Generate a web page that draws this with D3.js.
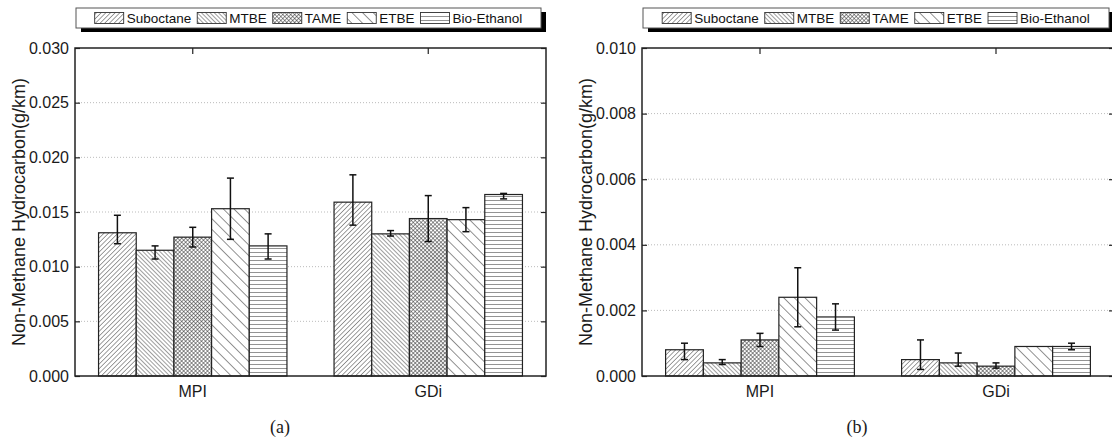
<!DOCTYPE html>
<html>
<head>
<meta charset="utf-8">
<script src="https://cdn.jsdelivr.net/npm/d3@7"></script>
<style>
  body { margin: 0; background: #fff; }
  svg { display: block; font-family: "Liberation Sans", Arial, sans-serif; }
</style>
</head>
<body>
<div id="chart"></div>
<script>
const categories = ['MPI', 'GDi'];
const fuels = ['Suboctane', 'MTBE', 'TAME', 'ETBE', 'Bio-Ethanol'];

// panel (a): mean and error bar bounds, one row per category
const aMean = [[0.0131, 0.0115, 0.0127, 0.0153, 0.0119], [0.0159, 0.0130, 0.0144, 0.0143, 0.0166]];
const aLow  = [[0.0121, 0.0107, 0.0118, 0.0125, 0.0107], [0.0138, 0.0128, 0.0123, 0.0132, 0.0162]];
const aHigh = [[0.0147, 0.0119, 0.0136, 0.0181, 0.0130], [0.0184, 0.0133, 0.0165, 0.0154, 0.0167]];
const aTicks = [0, 0.005, 0.010, 0.015, 0.020, 0.025, 0.030];

// panel (b)
const bMean = [[0.0008, 0.0004, 0.0011, 0.0024, 0.0018], [0.0005, 0.0004, 0.0003, 0.0009, 0.0009]];
const bLow  = [[0.0005, 0.00035, 0.0009, 0.0015, 0.0014], [0.0002, 0.0003, 0.00024, null, 0.0008]];
const bHigh = [[0.0010, 0.0005, 0.0013, 0.0033, 0.0022], [0.0011, 0.0007, 0.0004, null, 0.0010]];
const bTicks = [0, 0.002, 0.004, 0.006, 0.008, 0.010];

const yTitle = 'Non-Methane Hydrocarbon(g/km)';

const svg = d3.select('#chart').append('svg')
  .attr('width', 1112)
  .attr('height', 443);

// hatch patterns
const defs = svg.append('defs');
function linePattern(id, spacing, angle, sw) {
  const p = defs.append('pattern')
    .attr('id', id)
    .attr('patternUnits', 'userSpaceOnUse')
    .attr('width', spacing)
    .attr('height', spacing)
    .attr('patternTransform', `rotate(${angle})`);
  p.append('rect').attr('width', spacing).attr('height', spacing).attr('fill', '#fff');
  p.append('line')
    .attr('x1', 0).attr('y1', 0).attr('x2', 0).attr('y2', spacing)
    .attr('stroke', '#1a1a1a').attr('stroke-width', sw);
}
linePattern('p0', 3.3, 45, 0.85);
linePattern('p1', 3, -45, 0.85);
linePattern('p3', 7.5, -45, 0.95);
linePattern('p4', 4, 90, 0.95);
const cross = defs.append('pattern')
  .attr('id', 'p2')
  .attr('patternUnits', 'userSpaceOnUse')
  .attr('width', 2.8)
  .attr('height', 2.8)
  .attr('patternTransform', 'rotate(45)');
cross.append('rect').attr('width', 2.8).attr('height', 2.8).attr('fill', '#fff');
cross.append('line').attr('x1', 0).attr('y1', 0).attr('x2', 0).attr('y2', 2.8).attr('stroke', '#2a2a2a').attr('stroke-width', 1);
cross.append('line').attr('x1', 0).attr('y1', 0).attr('x2', 2.8).attr('y2', 0).attr('stroke', '#2a2a2a').attr('stroke-width', 1);

const fill = d3.scaleOrdinal().domain(fuels).range(['url(#p0)', 'url(#p1)', 'url(#p2)', 'url(#p3)', 'url(#p4)']);

function drawPanel(o) {
  const g = svg.append('g');
  const x0 = d3.scaleBand().domain(categories).range([o.left, o.right]).paddingInner(0.2).paddingOuter(0.1);
  const x1 = d3.scaleBand().domain(fuels).range([0, x0.bandwidth()]);
  const y = d3.scaleLinear().domain([0, o.ticks[o.ticks.length - 1]]).range([o.bottom, o.top]);

  // grid
  g.append('g').selectAll('line')
    .data(o.ticks.slice(1, -1))
    .join('line')
    .attr('x1', o.left).attr('x2', o.right)
    .attr('y1', d => y(d)).attr('y2', d => y(d))
    .attr('stroke', '#aaa')
    .attr('stroke-width', 0.8)
    .attr('stroke-dasharray', '1,2');

  // bars
  const groups = g.append('g').selectAll('g')
    .data(categories)
    .join('g')
    .attr('transform', c => `translate(${x0(c)},0)`);

  const items = (c, ci) => fuels.map((f, i) => ({
    fuel: f, v: o.mean[ci][i], lo: o.low[ci][i], hi: o.high[ci][i]
  }));

  groups.selectAll('rect')
    .data(items)
    .join('rect')
    .attr('x', d => x1(d.fuel))
    .attr('y', d => y(d.v))
    .attr('width', x1.bandwidth())
    .attr('height', d => o.bottom - y(d.v))
    .attr('fill', d => fill(d.fuel))
    .attr('stroke', '#222')
    .attr('stroke-width', 1.2);

  // error bars
  const eb = groups.selectAll('g.err')
    .data((c, ci) => items(c, ci).filter(d => d.lo != null))
    .join('g')
    .attr('class', 'err')
    .attr('transform', d => `translate(${x1(d.fuel) + x1.bandwidth() / 2},0)`);
  eb.append('line')
    .attr('y1', d => y(d.lo)).attr('y2', d => y(d.hi))
    .attr('stroke', '#111').attr('stroke-width', 1.5);
  eb.selectAll('line.cap')
    .data(d => [d.lo, d.hi])
    .join('line')
    .attr('class', 'cap')
    .attr('x1', -3.5).attr('x2', 3.5)
    .attr('y1', d => y(d)).attr('y2', d => y(d))
    .attr('stroke', '#111').attr('stroke-width', 1.5);

  // axes
  const yl = g.append('g')
    .attr('transform', `translate(${o.left},0)`)
    .call(d3.axisLeft(y).tickValues(o.ticks).tickFormat(d3.format('.3f')).tickSize(-5).tickPadding(6));
  const yr = g.append('g')
    .attr('transform', `translate(${o.right},0)`)
    .call(d3.axisRight(y).tickValues(o.ticks).tickFormat('').tickSize(-5));
  const xt = g.append('g')
    .attr('transform', `translate(0,${o.top})`)
    .call(d3.axisTop(x0).tickFormat('').tickSize(-6));
  const xb = g.append('g')
    .attr('transform', `translate(0,${o.bottom})`)
    .call(d3.axisBottom(x0).tickSize(0).tickPadding(10));
  [yl, yr, xt, xb].forEach(a => {
    a.select('.domain').remove();
    a.selectAll('.tick line').attr('stroke', '#222').attr('stroke-width', 1.2);
    a.selectAll('text').attr('font-size', 16).attr('fill', '#1a1a1a').attr('font-family', '"Liberation Sans", Arial, sans-serif');
  });

  g.append('rect')
    .attr('x', o.left).attr('y', o.top)
    .attr('width', o.right - o.left).attr('height', o.bottom - o.top)
    .attr('fill', 'none')
    .attr('stroke', '#222')
    .attr('stroke-width', 1.5);

  // y title
  g.append('text')
    .attr('transform', `translate(${o.titleX},${(o.top + o.bottom) / 2}) rotate(-90)`)
    .attr('text-anchor', 'middle')
    .attr('font-size', 18)
    .attr('fill', '#1a1a1a')
    .text(yTitle);

  // panel label
  g.append('text')
    .attr('x', o.labelX).attr('y', 433)
    .attr('text-anchor', 'middle')
    .attr('font-family', '"Liberation Serif", "Times New Roman", serif')
    .attr('font-size', 18)
    .attr('fill', '#1a1a1a')
    .text(o.label);

  // legend
  const lx = o.left + 1, lw = o.right - o.left - 6, ly = 8, lh = 20;
  g.append('rect').attr('x', lx + 5).attr('y', ly + 4).attr('width', lw).attr('height', lh).attr('fill', '#000');
  g.append('rect').attr('x', lx).attr('y', ly).attr('width', lw).attr('height', lh)
    .attr('fill', '#fff').attr('stroke', '#555').attr('stroke-width', 1);
  const leg = g.append('g');
  let cx = 0;
  fuels.forEach(f => {
    leg.append('rect')
      .attr('x', cx).attr('y', ly + 4.5)
      .attr('width', 29).attr('height', 11)
      .attr('fill', fill(f))
      .attr('stroke', '#333').attr('stroke-width', 0.9);
    const t = leg.append('text')
      .attr('x', cx + 32).attr('y', ly + 15)
      .attr('font-size', 13.5)
      .attr('fill', '#111')
      .text(f);
    cx += 32 + t.node().getComputedTextLength() + 6;
  });
  const legW = cx - 6;
  leg.attr('transform', `translate(${lx + (lw - legW) / 2},0)`);
}

drawPanel({ left: 75, right: 546, top: 48, bottom: 376, ticks: aTicks, mean: aMean, low: aLow, high: aHigh,
  titleX: 25, labelX: 280, label: '(a)' });
drawPanel({ left: 642, right: 1114, top: 48, bottom: 376, ticks: bTicks, mean: bMean, low: bLow, high: bHigh,
  titleX: 592, labelX: 857, label: '(b)' });
</script>
</body>
</html>
